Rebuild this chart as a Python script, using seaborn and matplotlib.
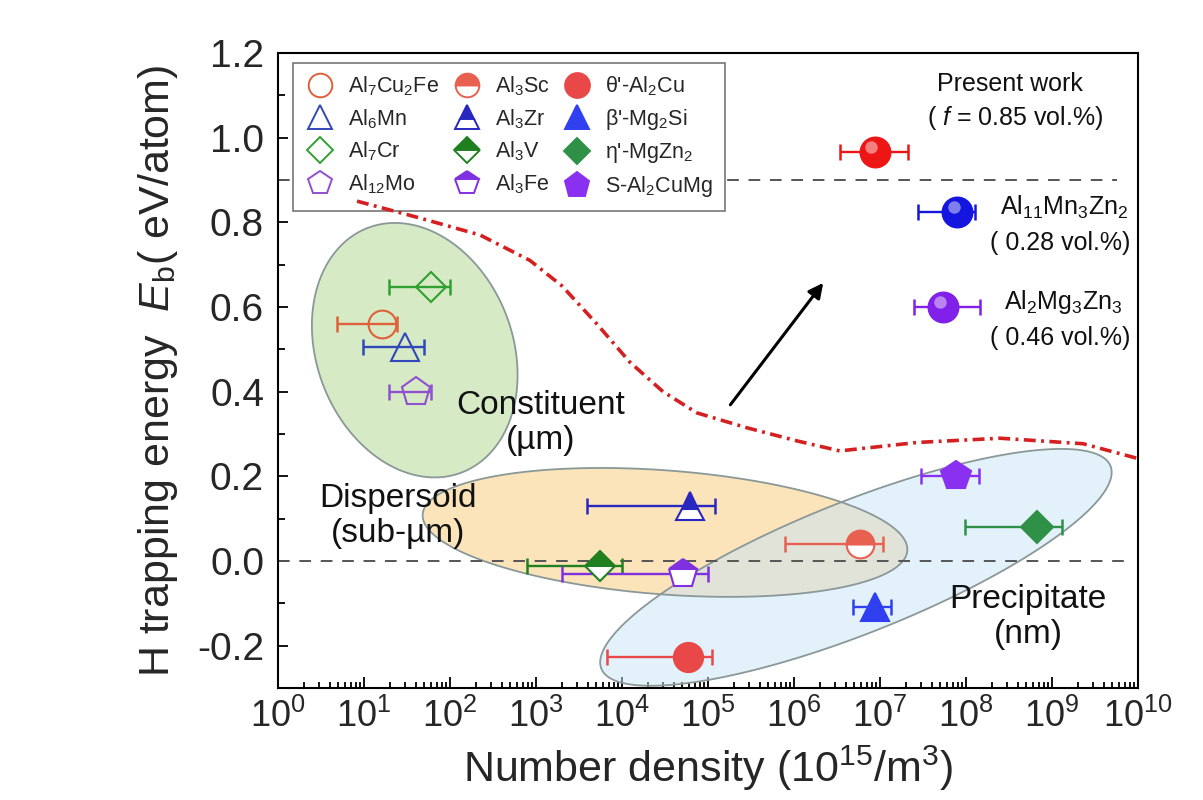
import numpy as np
import matplotlib
matplotlib.use("Agg")
import matplotlib.pyplot as plt
import seaborn as sns
from matplotlib.lines import Line2D
from matplotlib.patches import Polygon
from matplotlib.ticker import LogLocator, LogFormatterMathtext, MultipleLocator, FormatStrFormatter
from matplotlib.transforms import offset_copy

# ---- data ----
phase_names = ['Al$_7$Cu$_2$Fe', 'Al$_6$Mn', 'Al$_7$Cr', 'Al$_{12}$Mo',
               'Al$_3$Sc', 'Al$_3$Zr', 'Al$_3$V', 'Al$_3$Fe',
               "θ'-Al$_2$Cu", "β'-Mg$_2$Si", "η'-MgZn$_2$", 'S-Al$_2$CuMg']
density = [16, 30, 60, 40,
           5.9e6, 6.2e4, 5.5e3, 5.1e4,
           5.9e4, 8.7e6, 6.7e8, 7.6e7]
density_lo = [4.9, 9.7, 19.5, 19.5,
              7.9e5, 3.9e3, 790, 2.0e3,
              6.7e3, 4.9e6, 9.7e7, 3.0e7]
density_hi = [24, 50, 100, 60,
              1.08e7, 1.2e5, 1.0e4, 1.0e5,
              1.1e5, 1.35e7, 1.3e9, 1.4e8]
energy = [0.56, 0.505, 0.647, 0.40,
          0.04, 0.129, -0.012, -0.03,
          -0.226, -0.108, 0.08, 0.20]

# present work
pw_names = ['Al$_7$Cu$_2$Fe (present)', 'Al$_{11}$Mn$_3$Zn$_2$', 'Al$_2$Mg$_3$Zn$_3$']
pw_density = [8.7e6, 7.9e7, 5.4e7]
pw_lo = [3.4e6, 2.8e7, 2.5e7]
pw_hi = [2.1e7, 1.27e8, 1.45e8]
pw_energy = [0.967, 0.824, 0.60]

# red dash-dot guide curve
curve_x = [8.3, 45, 224, 850, 2000, 5100, 12300, 30000, 74000,
           2.8e5, 1.07e6, 3.4e6, 2.7e7, 2.5e8, 2.3e9, 1.0e10]
curve_y = [0.85, 0.81, 0.77, 0.71, 0.65, 0.56, 0.47, 0.40, 0.35,
           0.315, 0.284, 0.26, 0.28, 0.29, 0.277, 0.242]

# ---- styles ----
markers = ['o', '^', 'D', 'p', 'o', '^', 'D', 'p', 'o', '^', 'D', 'p']
fills = ['none'] * 4 + ['top'] * 4 + ['full'] * 4
colors = ['#e0603a', '#3048b8', '#30a030', '#9050d0',
          '#e86050', '#2828c0', '#208020', '#8030e0',
          '#e84848', '#3040f0', '#2f9048', '#8a30f0']
msizes = [20, 20, 15, 21, 20, 20, 15, 21, 21, 20, 16, 22]
pw_colors = ['#ee1515', '#1515e0', '#8020e8']

sns.set_theme(style='ticks')
plt.rcParams['font.family'] = ['Liberation Sans', 'DejaVu Sans']
plt.rcParams['mathtext.fontset'] = 'custom'
plt.rcParams['mathtext.rm'] = 'Liberation Sans'
plt.rcParams['mathtext.it'] = 'Liberation Sans:italic'
plt.rcParams['mathtext.bf'] = 'Liberation Sans:bold'
plt.rcParams['axes.unicode_minus'] = False

fig = plt.figure(figsize=(12.03, 8), dpi=100)
ax = fig.add_axes([278 / 1203, 112 / 800, 860 / 1203, 635 / 800])
ax.set_xscale('log')
ax.set_xlim(1, 1e10)
ax.set_ylim(-0.3, 1.2)

# region ellipses (centre in axes fraction, semi-axes in pixels, angle in degrees)
bbox = ax.get_position()
ax_w = bbox.width * fig.get_figwidth() * fig.dpi
ax_h = bbox.height * fig.get_figheight() * fig.dpi


def region(cx, cy, a, b, ang, face, alpha):
    t = np.linspace(0, 2 * np.pi, 300)
    th = np.deg2rad(ang)
    px = a * np.cos(t) * np.cos(th) - b * np.sin(t) * np.sin(th)
    py = a * np.cos(t) * np.sin(th) + b * np.sin(t) * np.cos(th)
    pts = np.column_stack([cx + px / ax_w, cy + py / ax_h])
    ax.add_patch(Polygon(pts, closed=True, transform=ax.transAxes,
                         facecolor=face, alpha=alpha, edgecolor='none', zorder=1))
    ax.add_patch(Polygon(pts, closed=True, transform=ax.transAxes,
                         facecolor='none', edgecolor='#8a9898', lw=1.3, zorder=1.5))


region(0.159, 0.532, 131, 98, -69, '#d6eac6', 1.0)
region(0.450, 0.245, 243, 62, -4.3, '#fbe3ba', 1.0)
region(0.672, 0.190, 274, 66, 21.7, '#c8e4f8', 0.5)

# dashed reference lines
ax.axhline(0.9, xmax=0.975, color='#555555', ls=(0, (6, 5)), lw=1.4, zorder=2)
ax.axhline(0.0, xmax=0.985, color='#555555', ls=(0, (6, 5)), lw=1.4, zorder=2)

# guide curve (drawn over the legend, as in the original)
sns.lineplot(x=curve_x, y=curve_y, ax=ax, color='#d42020', lw=2.6,
             dashes=False, zorder=8, sort=False, estimator=None)
ax.lines[-1].set_linestyle((0, (3.3, 1.5, 0.8, 1.5)))

# literature data
for i in range(len(phase_names)):
    x = density[i]
    ax.errorbar(x, energy[i], xerr=[[x - density_lo[i]], [density_hi[i] - x]],
                fmt='none', ecolor=colors[i], elinewidth=1.7, capsize=6,
                capthick=1.8, zorder=4)
    ax.plot(x, energy[i], marker=markers[i], ms=msizes[i], ls='none',
            fillstyle=fills[i], markerfacecolor=colors[i],
            markerfacecoloralt='white', markeredgecolor=colors[i],
            markeredgewidth=1.5, zorder=5)

# present work (shaded spheres)
hl = offset_copy(ax.transData, fig=fig, x=-2.5, y=3.5, units='points')
for i in range(len(pw_names)):
    x = pw_density[i]
    ax.errorbar(x, pw_energy[i], xerr=[[x - pw_lo[i]], [pw_hi[i] - x]],
                fmt='none', ecolor=pw_colors[i], elinewidth=1.7, capsize=6,
                capthick=1.8, zorder=4)
    ax.plot(x, pw_energy[i], marker='o', ms=22, ls='none',
            color=pw_colors[i], markeredgecolor=pw_colors[i], zorder=5)
    ax.plot(x, pw_energy[i], marker='o', ms=9, ls='none', color='white',
            alpha=0.45, markeredgewidth=0, transform=hl, zorder=6)

# legend
handles = [Line2D([], [], marker=markers[i], ls='none', ms=msizes[i] * 0.85,
                  fillstyle=fills[i], markerfacecolor=colors[i],
                  markerfacecoloralt='white', markeredgecolor=colors[i],
                  markeredgewidth=1.4) for i in range(len(phase_names))]
leg = ax.legend(handles, phase_names, ncol=3, loc='upper left',
                bbox_to_anchor=(0.017, 0.985), fontsize=15.5, frameon=True,
                fancybox=False, edgecolor='#777777', framealpha=1,
                handlelength=1.4, handletextpad=0.6, columnspacing=0.6,
                labelspacing=0.42, borderpad=0.55, borderaxespad=0)
leg.get_frame().set_linewidth(1.2)
leg.set_zorder(7)

# annotations
txt = dict(transform=ax.transAxes, ha='center', va='center', color='#111111')
ax.text(0.851, 0.951, 'Present work', fontsize=18, **txt)
ax.text(0.857, 0.898, '( $f$ = 0.85 vol.%)', fontsize=18, **txt)
ax.text(0.914, 0.757, 'Al$_{11}$Mn$_3$Zn$_2$', fontsize=18, **txt)
ax.text(0.909, 0.701, '( 0.28 vol.%)', fontsize=18, **txt)
ax.text(0.913, 0.608, 'Al$_2$Mg$_3$Zn$_3$', fontsize=18, **txt)
ax.text(0.909, 0.551, '( 0.46 vol.%)', fontsize=18, **txt)
ax.text(0.305, 0.417, 'Constituent\n(µm)', fontsize=24, linespacing=1.15, **txt)
ax.text(0.140, 0.271, 'Dispersoid\n(sub-µm)', fontsize=24, linespacing=1.15, **txt)
ax.text(0.872, 0.112, 'Precipitate\n(nm)', fontsize=24, linespacing=1.15, **txt)
ax.annotate('', xy=(0.634, 0.638), xytext=(0.526, 0.446),
            xycoords='axes fraction', textcoords='axes fraction',
            arrowprops=dict(arrowstyle='-|>', color='black', lw=2.2,
                            mutation_scale=22, shrinkA=0, shrinkB=0), zorder=6)

# axes styling
ax.xaxis.set_major_locator(LogLocator(base=10, numticks=20))
ax.xaxis.set_minor_locator(LogLocator(base=10, subs=np.arange(2, 10), numticks=100))
ax.xaxis.set_major_formatter(LogFormatterMathtext())
ax.yaxis.set_major_locator(MultipleLocator(0.2))
ax.yaxis.set_minor_locator(MultipleLocator(0.1))
ax.yaxis.set_major_formatter(FormatStrFormatter('%.1f'))
ax.tick_params(axis='both', which='both', direction='in', color='black',
               top=False, right=False, width=1.3)
ax.tick_params(axis='y', which='major', length=7, labelsize=28, pad=10)
ax.tick_params(axis='y', which='minor', length=5)
ax.tick_params(axis='x', which='major', length=8, labelsize=26, pad=8)
ax.tick_params(axis='x', which='minor', length=4)
for s in ax.spines.values():
    s.set_linewidth(1.5)
    s.set_color('black')

ax.set_xlabel('Number density (10$^{15}$/m$^{3}$)', fontsize=31, labelpad=6)
ax.set_ylabel('H trapping energy  $E_{\\rm b}$( eV/atom)', fontsize=31, labelpad=12)

plt.savefig('out.png', dpi=100)
